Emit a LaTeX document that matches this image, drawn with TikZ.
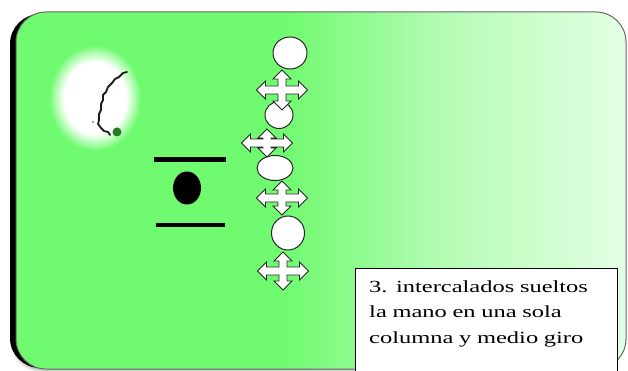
\documentclass[tikz,border=0pt]{standalone}
\usepackage{fontspec}
\setmainfont{Liberation Serif}
\newfontfamily\capfont{Liberation Serif}[FakeStretch=1.44]
\usetikzlibrary{positioning}

\definecolor{cardgreen}{RGB}{112,250,112}
\definecolor{cardmid}{RGB}{180,252,180}
\definecolor{cardlight}{RGB}{228,255,228}
\definecolor{blobgreen}{RGB}{40,120,40}

\pgfdeclarehorizontalshading{cardfade}{100bp}{color(0bp)=(cardgreen); color(25bp)=(cardgreen); color(47bp)=(cardgreen); color(60bp)=(cardmid); color(75bp)=(cardlight); color(100bp)=(cardlight)}
\pgfdeclareradialshading{glowfade}{\pgfpoint{0bp}{0bp}}{color(0bp)=(white); color(17bp)=(white); color(25bp)=(cardgreen); color(50bp)=(cardgreen)}

\tikzset{
  card/.style={draw=black!60, line width=1pt, shading=cardfade, rounded corners=30pt},
  bar/.style={line width=4.5pt},
  oval/.style={draw=black!85, fill=white, line width=1pt},
  crossarrow/.style={draw=black!85, fill=white, line width=0.9pt, line join=miter},
  handline/.style={black!90, line width=1.8pt, line join=round, line cap=round},
  capframe/.style={draw=black, line width=1pt, fill=white},
  captext/.style={text width=234pt, inner xsep=14pt, inner ysep=12.5pt, align=left, font=\capfont\fontsize{17}{25.5}\selectfont},
  pics/quadarrow/.style 2 args={code={
    \draw[crossarrow] (4,4) -- ({#1-9},4) -- ({#1-9},9) -- (#1,0) -- ({#1-9},-9) -- ({#1-9},-4) -- (4,-4)
      -- (4,{-#2+9}) -- (9,{-#2+9}) -- (0,-#2) -- (-9,{-#2+9}) -- (-4,{-#2+9}) -- (-4,-4)
      -- ({-#1+9},-4) -- ({-#1+9},-9) -- (-#1,0) -- ({-#1+9},9) -- ({-#1+9},4) -- (-4,4)
      -- (-4,{#2-9}) -- (-9,{#2-9}) -- (0,#2) -- (9,{#2-9}) -- (4,{#2-9}) -- cycle;
  }}
}

\begin{document}
\begin{tikzpicture}[x=1pt,y=-1pt]
\useasboundingbox (0,0) rectangle (628,371);

% soft shadow and dark edge of the card
\foreach \s in {1,...,6}
  \fill[black, opacity=0.05, rounded corners=30pt] ({16-\s},{12+\s/2}) rectangle ({626-\s},{369+\s/2});
\fill[black, rounded corners=30pt] (10,14) rectangle (620,368);
\path[card] (16,12) rectangle (626,369);

% face with the hand stroke
\shade[shading=glowfade] (95,98) ellipse [x radius=46, y radius=53];
\draw[handline] (127,72) -- (123,73) -- (119,77) -- (115,79) -- (112,83) -- (108,87) -- (106,92) -- (103,95)
  -- (103,100) -- (101,104) -- (101,110) -- (99,114) -- (99,120) -- (98,124) -- (101,128) -- (104,131) -- (108,132) -- (110,135);
\fill[blobgreen] (117,132) circle (4.5);
\fill[black!70] (93,122) circle (0.8);

% bars and dot
\draw[bar] (154,159.5) -- (226,159.5);
\fill (187,188) ellipse [x radius=14, y radius=16.5];
\draw[bar] (156,225) -- (225,225);

% column of ovals
\path[oval] (290,53) ellipse [x radius=17, y radius=16];
\path[oval] (279,115) ellipse [x radius=14, y radius=13.5];
\path[oval] (275,168) ellipse [x radius=18, y radius=12.5];
\path[oval] (288,233) ellipse [x radius=16.5, y radius=17];

% four-way arrows
\pic at (282,90) {quadarrow={25.5}{20}};
\pic at (267,143) {quadarrow={25.5}{14}};
\pic at (282,198) {quadarrow={25.5}{17}};
\pic at (283,271) {quadarrow={25.5}{19}};

% caption
\path[capframe] (355,268) rectangle (617,380);
\node[captext, anchor=north west] (caption) at (355,268) {3. intercalados sueltos\\la mano en una sola\\columna y medio giro};
\end{tikzpicture}
\end{document}
